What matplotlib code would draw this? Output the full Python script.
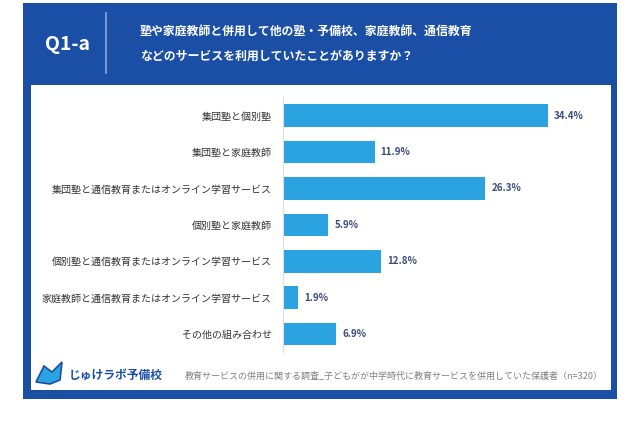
import matplotlib
matplotlib.use('Agg')
import matplotlib.pyplot as plt
from matplotlib.patches import Rectangle, Polygon

plt.rcParams['font.family'] = ['Noto Sans CJK JP', 'DejaVu Sans']

categories = [
    '集団塾と個別塾',
    '集団塾と家庭教師',
    '集団塾と通信教育またはオンライン学習サービス',
    '個別塾と家庭教師',
    '個別塾と通信教育またはオンライン学習サービス',
    '家庭教師と通信教育またはオンライン学習サービス',
    'その他の組み合わせ',
]
values = [34.4, 11.9, 26.3, 5.9, 12.8, 1.9, 6.9]

title_id = 'Q1-a'
title_lines = ['塾や家庭教師と併用して他の塾・予備校、家庭教師、通信教育',
               'などのサービスを利用していたことがありますか？']
source = '教育サービスの併用に関する調査_子どもがが中学時代に教育サービスを併用していた保護者（n=320）'
logo = 'じゅけラボ予備校'

W, H = 640, 426
frame_blue = '#1b4fa6'
bar_blue = '#2ba3e0'
value_col = '#3b4d7a'

fig = plt.figure(figsize=(6.4, 4.26), dpi=100)
fig.patch.set_facecolor('white')


def box(x0, y0, x1, y1, color, z=0):
    # pixel coords, top-down
    fig.patches.append(Rectangle((x0 / W, 1 - y1 / H), (x1 - x0) / W, (y1 - y0) / H,
                                 transform=fig.transFigure, facecolor=color,
                                 edgecolor='none', zorder=z))


box(23, 3, 617, 399, frame_blue, 0)
box(31, 85, 611, 390, 'white', 1)

# header
fig.text(68 / W, 1 - 45 / H, title_id, color='white', fontsize=14, fontweight='bold',
         ha='center', va='center', zorder=3)
fig.add_artist(plt.Line2D([106 / W, 106 / W], [1 - 13 / H, 1 - 73 / H],
                          transform=fig.transFigure, color='#8fa9d6', lw=1.2, zorder=3))
fig.text(140 / W, 1 - 31 / H, title_lines[0], color='white', fontsize=8.6,
         fontweight='bold', ha='left', va='center', zorder=3)
fig.text(140 / W, 1 - 56 / H, title_lines[1], color='white', fontsize=8.6,
         fontweight='bold', ha='left', va='center', zorder=3)

# chart
ax = fig.add_axes([283 / W, 1 - 352 / H, (600 - 283) / W, (352 - 97) / H])
ax.set_zorder(2)
ax.patch.set_alpha(0)
pos = list(range(len(categories)))
ax.barh(pos, values, height=0.62, color=bar_blue)
for p, v in zip(pos, values):
    ax.text(v + 0.8, p, f'{v}%', va='center', ha='left', fontsize=7,
            fontweight='bold', color=value_col)
ax.set_xlim(0, 41.2)
ax.set_ylim(6.49, -0.51)
ax.set_yticks(pos)
ax.set_yticklabels(categories, fontsize=7.2, color='#333333')
ax.tick_params(axis='y', length=0, pad=8)
ax.set_xticks([])
for s in ['top', 'right', 'bottom']:
    ax.spines[s].set_visible(False)
ax.spines['left'].set_color('#dddddd')
ax.spines['left'].set_linewidth(0.8)

# footer logo
fig.patches.append(Polygon([(36 / W, 1 - 382 / H), (44 / W, 1 - 366 / H), (52 / W, 1 - 372 / H),
                            (62 / W, 1 - 362 / H), (60 / W, 1 - 380 / H), (50 / W, 1 - 384 / H)],
                           closed=True, transform=fig.transFigure, facecolor=bar_blue,
                           edgecolor=frame_blue, lw=1.2, zorder=3))
fig.text(69 / W, 1 - 375 / H, logo, color=frame_blue, fontsize=8.5, fontweight='bold',
         ha='left', va='center', zorder=3)
fig.text(603 / W, 1 - 376 / H, source, color='#808080', fontsize=6.5,
         ha='right', va='center', zorder=3)

fig.savefig('out.png', dpi=100)
